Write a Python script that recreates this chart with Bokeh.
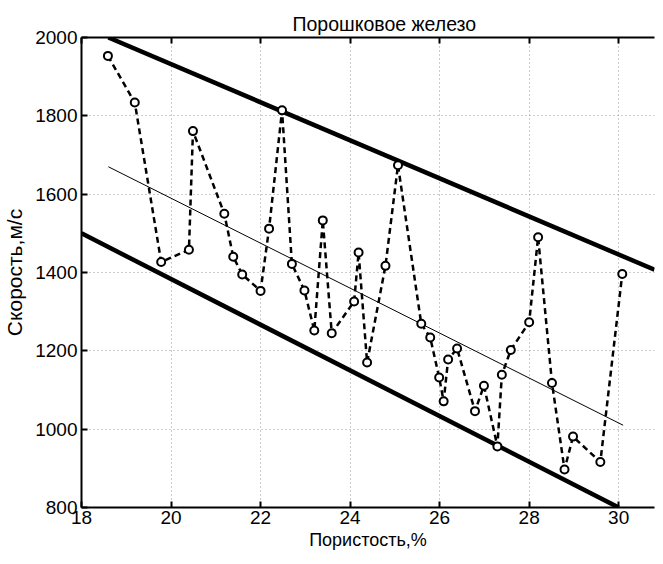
from bokeh.plotting import figure
from bokeh.models import LinearAxis, Range1d, FixedTicker, ColumnDataSource
from bokeh.embed import file_html
from bokeh.resources import INLINE

# Data
porosity = [18.59, 19.19, 19.78, 20.40, 20.49, 21.19, 21.39, 21.59, 22.00, 22.19,
            22.48, 22.70, 22.98, 23.20, 23.39, 23.59, 24.09, 24.19, 24.38, 24.79,
            25.07, 25.59, 25.79, 25.99, 26.09, 26.19, 26.39, 26.79, 26.99, 27.29,
            27.39, 27.59, 28.00, 28.20, 28.51, 28.79, 28.98, 29.59, 30.08]
speed = [1953, 1834, 1427, 1458, 1761, 1550, 1440, 1395, 1353, 1512,
         1814, 1422, 1354, 1252, 1533, 1245, 1326, 1451, 1170, 1417,
         1674, 1269, 1234, 1132, 1071, 1178, 1206, 1046, 1111, 956,
         1139, 1202, 1273, 1490, 1118, 897, 981, 916, 1396]

upper_x = [18.6, 30.8]
upper_y = [2000, 1407]
lower_x = [18.0, 30.0]
lower_y = [1500, 800]
trend_x = [18.6, 30.1]
trend_y = [1670, 1010]

x_ticks = [18, 20, 22, 24, 26, 28, 30]
y_ticks = [800, 1000, 1200, 1400, 1600, 1800, 2000]

FONT = "Liberation Sans"

p = figure(width=655, height=556,
           x_range=Range1d(18, 30.8), y_range=Range1d(800, 2000),
           output_backend="svg", toolbar_location=None,
           min_border_left=69, min_border_right=1,
           min_border_top=37, min_border_bottom=49,
           title="Порошковое железо",
           x_axis_label="Пористость,%", y_axis_label="Скорость,м/с")
p.outline_line_color = None
p.background_fill_color = "white"
p.border_fill_color = "white"

p.title.align = "left"
p.title.offset = 211
p.title.text_font = FONT
p.title.text_font_size = "19.5px"
p.title.text_font_style = "normal"
p.title.text_color = "black"
p.title.standoff = 5

bottom = p.below[0]
left = p.left[0]

top_axis = LinearAxis(ticker=FixedTicker(ticks=x_ticks))
top_axis.major_label_text_font_size = "1px"
top_axis.major_label_text_alpha = 0
top_axis.major_label_standoff = 0
p.add_layout(top_axis, "above")

for ax in [bottom, left, top_axis]:
    ax.axis_line_width = 2
    ax.axis_line_color = "black"
    ax.major_tick_in = 6
    ax.major_tick_out = 0
    ax.major_tick_line_width = 2
    ax.major_tick_line_color = "black"
    ax.minor_tick_line_color = None
    ax.major_label_text_font = FONT
    ax.major_label_text_color = "black"
    ax.axis_label_text_font = FONT
    ax.axis_label_text_font_style = "normal"
    ax.axis_label_text_color = "black"

bottom.ticker = FixedTicker(ticks=x_ticks)
left.ticker = FixedTicker(ticks=y_ticks)
bottom.major_label_text_font_size = "19px"
left.major_label_text_font_size = "19px"
bottom.axis_label_text_font_size = "18px"
left.axis_label_text_font_size = "21px"
bottom.major_label_standoff = 3
left.major_label_standoff = 4
bottom.axis_label_standoff = 3
left.axis_label_standoff = 6

p.xgrid.ticker = FixedTicker(ticks=x_ticks)
p.ygrid.ticker = FixedTicker(ticks=y_ticks)
for g in [p.xgrid[0], p.ygrid[0]]:
    g.grid_line_color = "#999999"
    g.grid_line_dash = "1 3"
    g.grid_line_width = 1

p.line(upper_x, upper_y, line_color="black", line_width=4.5)
p.line(lower_x, lower_y, line_color="black", line_width=4.5)
p.line(trend_x, trend_y, line_color="black", line_width=1)

src = ColumnDataSource(data=dict(x=porosity, y=speed))
p.line("x", "y", source=src, line_color="black", line_width=2.5, line_dash="6 4")
p.scatter("x", "y", source=src, marker="circle", size=8, fill_color="white",
          line_color="black", line_width=2)

open("out.html", "w").write(file_html(p, INLINE))
